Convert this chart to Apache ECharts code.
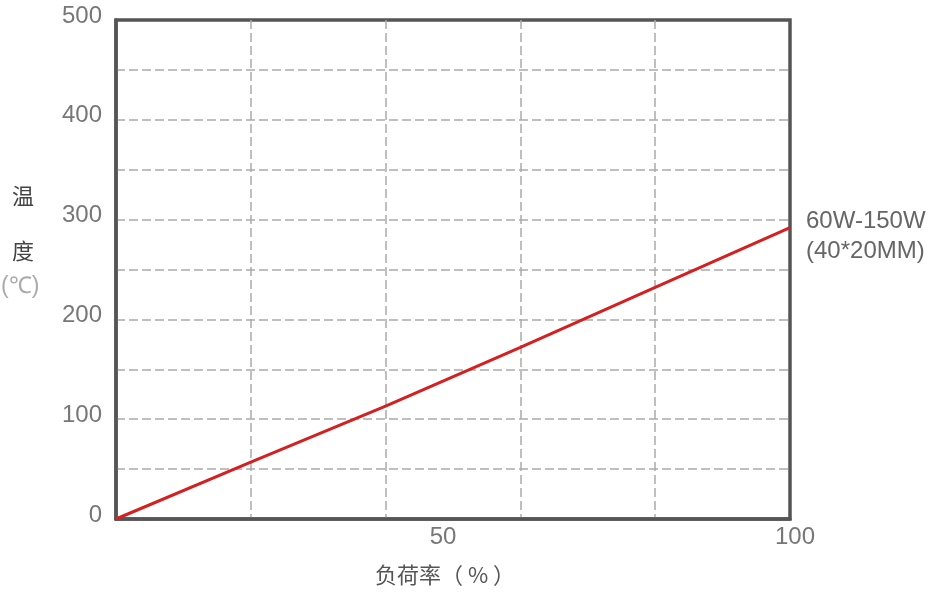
<!DOCTYPE html>
<html lang="zh">
<head>
    <meta charset="UTF-8">
    <title>温度-负荷率</title>
    <script src="https://cdn.jsdelivr.net/npm/echarts@6/dist/echarts.min.js"></script>
    <style>
        html, body { margin: 0; padding: 0; background: #fff; }
        #main { width: 937px; height: 595px; }
    </style>
</head>
<body>
<div id="main"></div>
<script>
    // 负荷率 (%) 与温度 (℃)
    var loadRate = [0, 20, 40, 60, 80, 100];
    var temperature = [0, 57, 113, 172, 232, 292];
    var xLabels = [50, 100];
    var yLabels = [0, 100, 200, 300, 400, 500];
    var seriesName = '60W-150W\n(40*20MM)';

    var fontEn = 'Liberation Sans, Arial, sans-serif';
    var fontCn = 'Noto Sans CJK SC, sans-serif';

    var points = [];
    for (var i = 0; i < loadRate.length; i++) {
        points.push([loadRate[i], temperature[i]]);
    }

    var gridLine = { show: true, showMinLine: false, showMaxLine: false,
        lineStyle: { color: '#aaa', type: [9, 4], width: 1.5 } };

    var myChart = echarts.init(document.getElementById('main'));

    var option = {
        animation: false,
        grid: {
            left: 116,
            right: 147,
            top: 20,
            bottom: 76,
            show: true,
            borderColor: '#555',
            borderWidth: 3.5
        },
        xAxis: [{
            // 网格线用
            type: 'value',
            min: 0,
            max: 100,
            interval: 20,
            axisLine: { show: true, lineStyle: { color: '#555', width: 3.5 } },
            axisTick: { show: false },
            axisLabel: { show: false },
            splitLine: gridLine
        }, {
            // 刻度文字用
            type: 'value',
            position: 'bottom',
            min: 0,
            max: 100,
            interval: 50,
            axisLine: { show: false },
            axisTick: { show: false },
            splitLine: { show: false },
            axisLabel: {
                margin: 6,
                color: '#777',
                fontSize: 24,
                fontFamily: fontEn,
                formatter: function (v) {
                    if (xLabels.indexOf(v) < 0) return '';
                    return v === 100 ? '{r|' + v + '}' : '{l|' + v + '}';
                },
                rich: {
                    l: { fontSize: 24, color: '#777', fontFamily: fontEn, padding: [0, 20, 0, 0] },
                    r: { fontSize: 24, color: '#777', fontFamily: fontEn, padding: [0, 0, 0, 10] }
                }
            }
        }],
        yAxis: {
            type: 'value',
            min: 0,
            max: 500,
            interval: 50,
            axisLine: { show: true, lineStyle: { color: '#555', width: 3.5 } },
            axisTick: { show: false },
            splitLine: gridLine,
            axisLabel: {
                margin: 14,
                color: '#777',
                fontSize: 24,
                fontFamily: fontEn,
                formatter: function (v) {
                    return yLabels.indexOf(v) >= 0 ? '{a|' + v + '}' : '';
                },
                rich: {
                    a: { fontSize: 24, color: '#777', fontFamily: fontEn, padding: [0, 0, 8, 0] }
                }
            }
        },
        series: [{
            name: seriesName,
            type: 'line',
            xAxisIndex: 0,
            data: points,
            symbol: 'none',
            lineStyle: { color: '#d42020', width: 3 },
            endLabel: {
                show: true,
                formatter: seriesName,
                color: '#666',
                fontSize: 24,
                lineHeight: 30,
                fontFamily: fontEn,
                distance: 16,
                offset: [0, 9]
            }
        }],
        graphic: [
            { type: 'text', left: 12, top: 185, style: { text: '温', fill: '#444', font: '22px ' + fontCn } },
            { type: 'text', left: 12, top: 240, style: { text: '度', fill: '#444', font: '22px ' + fontCn } },
            { type: 'text', left: 1, top: 275, style: { text: '(℃)', fill: '#aaa', font: '23px ' + fontEn } },
            { type: 'text', left: 375, top: 564, style: { text: '负荷率（ % ）', fill: '#555', font: '22px ' + fontCn } }
        ]
    };

    myChart.setOption(option);
</script>
</body>
</html>
